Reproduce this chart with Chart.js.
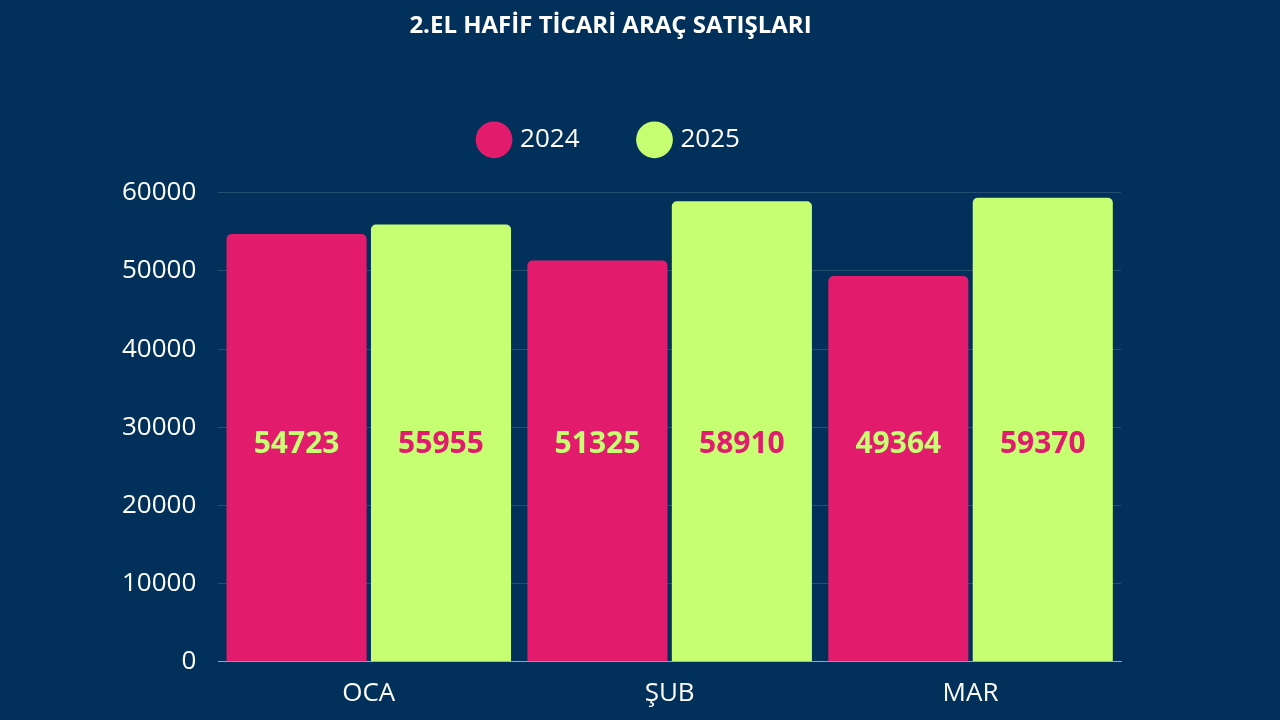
<!DOCTYPE html>
<html>
<head>
<meta charset="utf-8">
<script src="https://cdn.jsdelivr.net/npm/chart.js@4"></script>
<style>
  html, body { margin: 0; padding: 0; background: #01305a; }
  #wrap { width: 1280px; height: 720px; }
</style>
</head>
<body>
<div id="wrap"><canvas id="canvas" width="1280" height="720"></canvas></div>
<script>
const months = ["OCA", "ŞUB", "MAR"];
const sales2024 = [54723, 51325, 49364];
const sales2025 = [55955, 58910, 59370];
const yTicks = [0, 10000, 20000, 30000, 40000, 50000, 60000];

const pink = "#e31b6d";
const green = "#c6ff72";
const font = "'Open Sans', sans-serif";

// values written in the middle of each bar
const barLabels = {
  id: "barLabels",
  afterDatasetsDraw(chart) {
    const ctx = chart.ctx;
    ctx.save();
    ctx.font = "bold 30px " + font;
    ctx.textAlign = "center";
    ctx.textBaseline = "middle";
    chart.data.datasets.forEach((ds, i) => {
      chart.getDatasetMeta(i).data.forEach((bar, j) => {
        ctx.fillStyle = ds.labelColor;
        ctx.fillText(ds.data[j], bar.x, chart.scales.y.getPixelForValue(30000) + 17);
      });
    });
    ctx.restore();
  }
};

// extra room under the legend
const legendGap = {
  id: "legendGap",
  beforeInit(chart) {
    const fit = chart.legend.fit;
    chart.legend.fit = function () {
      fit.bind(chart.legend)();
      this.height += 30;
    };
  }
};

new Chart(document.getElementById("canvas").getContext("2d"), {
  type: "bar",
  data: {
    labels: months,
    datasets: [
      { label: "2024", data: sales2024, backgroundColor: pink, labelColor: green, borderRadius: 5, borderSkipped: "bottom" },
      { label: "2025", data: sales2025, backgroundColor: green, labelColor: pink, borderRadius: 5, borderSkipped: "bottom" }
    ]
  },
  options: {
    responsive: false,
    animation: false,
    layout: { padding: { left: 100, right: 159, top: 6, bottom: 3 } },
    categoryPercentage: 0.96,
    barPercentage: 0.97,
    plugins: {
      title: {
        display: true,
        text: "2.EL HAFİF TİCARİ ARAÇ SATIŞLARI",
        color: "#ffffff",
        font: { family: font, size: 24, weight: "bold" },
        padding: { top: 6, bottom: 24 }
      },
      legend: {
        labels: {
          color: "#ffffff",
          font: { family: font, size: 26, weight: "500" },
          usePointStyle: true,
          pointStyle: "circle",
          boxWidth: 28,
          boxHeight: 28,
          padding: 62
        }
      },
      tooltip: { enabled: false }
    },
    scales: {
      x: {
        grid: { display: false },
        border: { color: "rgba(255,255,255,0.5)" },
        ticks: { color: "#ffffff", font: { family: font, size: 26, weight: "500" }, padding: 8 }
      },
      y: {
        min: 0,
        max: 60000,
        afterBuildTicks: (axis) => { axis.ticks = yTicks.map(v => ({ value: v })); },
        grid: { color: "rgba(255,255,255,0.15)", drawTicks: false },
        border: { display: false },
        ticks: {
          color: "#ffffff",
          font: { family: font, size: 26, weight: "500" },
          padding: 22,
          callback: (v) => String(v)
        }
      }
    }
  },
  plugins: [barLabels, legendGap]
});
</script>
</body>
</html>
